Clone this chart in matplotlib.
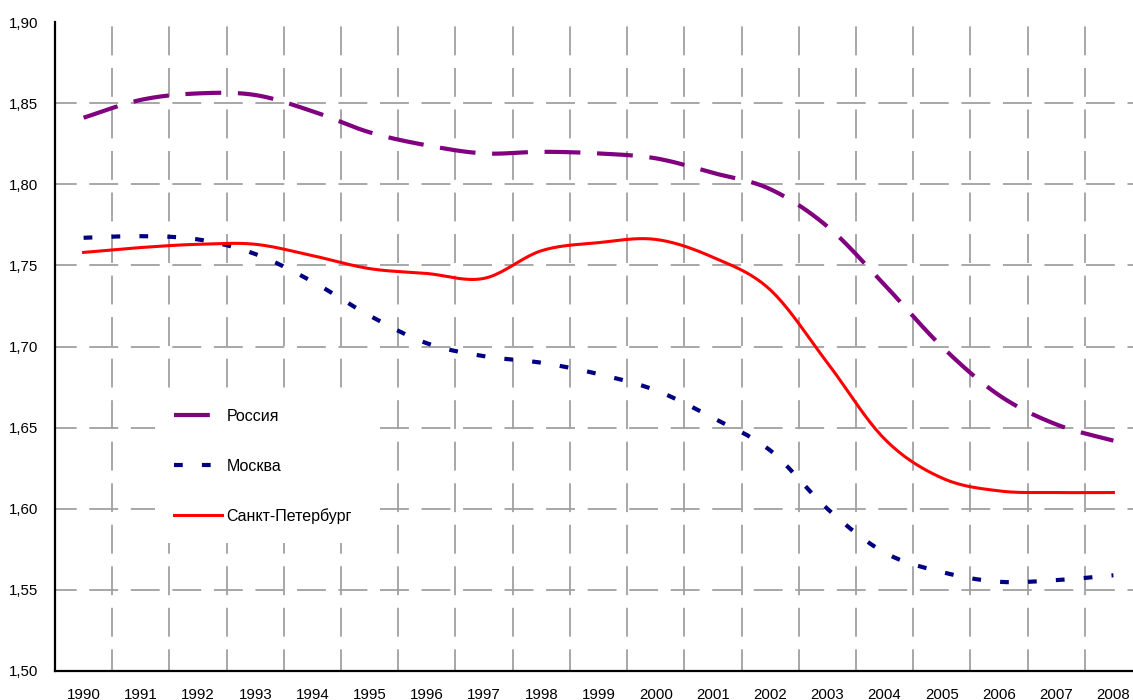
import numpy as np
import matplotlib
matplotlib.use('Agg')
import matplotlib.pyplot as plt
from matplotlib.ticker import FuncFormatter

# Данные (суммарный коэффициент рождаемости)
years = [1990, 1991, 1992, 1993, 1994, 1995, 1996, 1997, 1998, 1999,
         2000, 2001, 2002, 2003, 2004, 2005, 2006, 2007, 2008]
russia = [1.841, 1.852, 1.856, 1.855, 1.845, 1.832, 1.824, 1.819, 1.820, 1.819,
          1.816, 1.807, 1.797, 1.774, 1.738, 1.700, 1.670, 1.652, 1.642]
moscow = [1.767, 1.768, 1.766, 1.757, 1.740, 1.719, 1.702, 1.694, 1.690, 1.683,
          1.673, 1.656, 1.636, 1.600, 1.573, 1.561, 1.555, 1.556, 1.559]
spb = [1.758, 1.761, 1.763, 1.763, 1.756, 1.748, 1.745, 1.742, 1.759, 1.764,
       1.766, 1.755, 1.735, 1.690, 1.643, 1.619, 1.611, 1.610, 1.610]
series_names = ['Россия', 'Москва', 'Санкт-Петербург']
y_ticks = [1.50, 1.55, 1.60, 1.65, 1.70, 1.75, 1.80, 1.85, 1.90]


def smooth(xs, ys, n=20):
    # сглаживание как в Excel (Catmull-Rom)
    xs = np.asarray(xs, float)
    ys = np.asarray(ys, float)
    px = np.concatenate([[xs[0]], xs, [xs[-1]]])
    py = np.concatenate([[ys[0]], ys, [ys[-1]]])
    out_x, out_y = [], []
    t = np.linspace(0, 1, n, endpoint=False)
    for i in range(1, len(px) - 2):
        for arr, out in ((px, out_x), (py, out_y)):
            p0, p1, p2, p3 = arr[i - 1], arr[i], arr[i + 1], arr[i + 2]
            out.extend(0.5 * ((2 * p1) + (-p0 + p2) * t
                              + (2 * p0 - 5 * p1 + 4 * p2 - p3) * t ** 2
                              + (-p0 + 3 * p1 - 3 * p2 + p3) * t ** 3))
    out_x.append(xs[-1])
    out_y.append(ys[-1])
    return np.array(out_x), np.array(out_y)


plt.rcParams['font.family'] = ['Liberation Sans', 'DejaVu Sans']

W, H = 1133, 700
fig = plt.figure(figsize=(W / 100, H / 100), dpi=100)
ax = fig.add_axes([55 / W, 29 / H, (1142 - 55) / W, (671 - 22) / H])

idx = np.arange(len(years))

# сетка
grid_kw = dict(color='#a0a0a0', linewidth=1.3, linestyle=(4, (16, 7)), zorder=0)
for v in y_ticks[1:-1]:
    ax.axhline(v, **grid_kw)
for b in idx[:-1] + 0.5:
    ax.axvline(b, **grid_kw)

x_s, y_s = smooth(idx, russia)
ax.plot(x_s, y_s, color='#800080', linewidth=3.0, linestyle=(0, (8.6, 4.0)),
        label=series_names[0], zorder=3)
x_s, y_s = smooth(idx, moscow)
ax.plot(x_s, y_s, color='#000080', linewidth=3.0, linestyle=(0, (2.1, 4.6)),
        label=series_names[1], zorder=3)
x_s, y_s = smooth(idx, spb)
ax.plot(x_s, y_s, color='#ff0000', linewidth=2.2, linestyle='-',
        label=series_names[2], zorder=3)

ax.set_xlim(-0.5, len(years) - 0.5)
ax.set_ylim(1.50, 1.90)
ax.set_xticks(idx)
ax.set_xticklabels([str(y) for y in years])
ax.set_yticks(y_ticks)
ax.yaxis.set_major_formatter(FuncFormatter(lambda v, p: f'{v:.2f}'.replace('.', ',')))
ax.tick_params(axis='both', length=0, labelsize=10.8, colors='black')
ax.tick_params(axis='x', pad=12)
ax.tick_params(axis='y', pad=12)

for s in ['top', 'right']:
    ax.spines[s].set_visible(False)
for s in ['left', 'bottom']:
    ax.spines[s].set_linewidth(1.6)
    ax.spines[s].set_color('black')

leg = ax.legend(loc='upper left', bbox_to_anchor=(155 / W, 1 - 390 / H),
                bbox_transform=fig.transFigure, fontsize=11.5, frameon=True,
                fancybox=False, framealpha=1, facecolor='white', edgecolor='none',
                handlelength=3.0, handletextpad=0.3, labelspacing=2.16,
                borderpad=1.19, borderaxespad=0)
leg.set_zorder(5)

fig.savefig('out.png', dpi=100)
